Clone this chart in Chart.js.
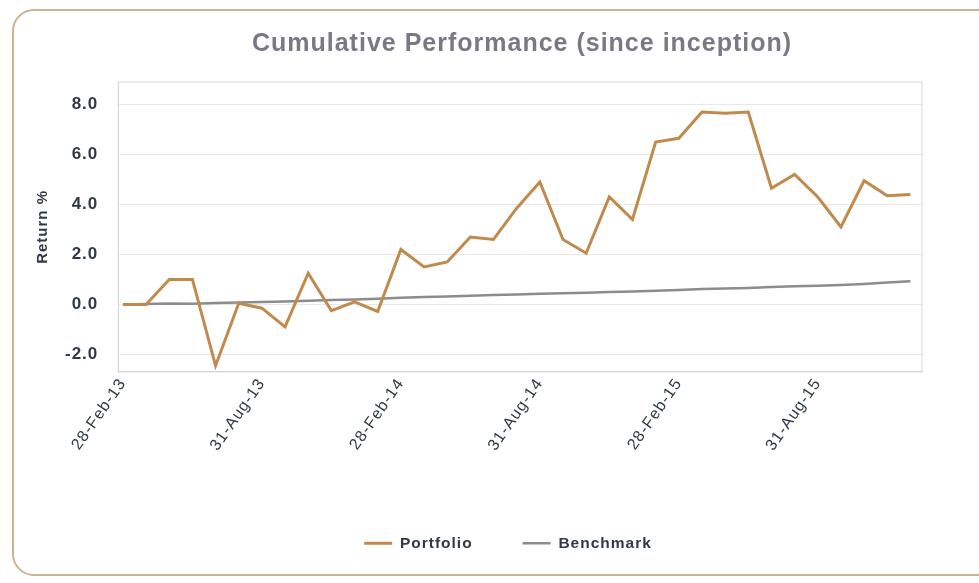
<!DOCTYPE html>
<html>
<head>
<meta charset="utf-8">
<script src="https://cdn.jsdelivr.net/npm/chart.js@4"></script>
<style>
  html, body { margin: 0; padding: 0; background: #fff; }
  #wrap { position: relative; width: 979px; height: 583px; overflow: hidden; }
  #frame {
    position: absolute; left: 12px; top: 9px; width: 990px; height: 567px;
    border: 2px solid #cbb394; border-radius: 22px; box-sizing: border-box;
  }
  canvas { position: absolute; left: 0; top: 0; }
</style>
</head>
<body>
<div id="wrap">
  <div id="frame"></div>
  <canvas id="perfChart" width="979" height="583"></canvas>
</div>
<script>
// month-end dates, Feb-13 .. Dec-15
const dates = [
    '28-Feb-13', '31-Mar-13', '30-Apr-13', '31-May-13', '30-Jun-13', '31-Jul-13',
    '31-Aug-13', '30-Sep-13', '31-Oct-13', '30-Nov-13', '31-Dec-13', '31-Jan-14',
    '28-Feb-14', '31-Mar-14', '30-Apr-14', '31-May-14', '30-Jun-14', '31-Jul-14',
    '31-Aug-14', '30-Sep-14', '31-Oct-14', '30-Nov-14', '31-Dec-14', '31-Jan-15',
    '28-Feb-15', '31-Mar-15', '30-Apr-15', '31-May-15', '30-Jun-15', '31-Jul-15',
    '31-Aug-15', '30-Sep-15', '31-Oct-15', '30-Nov-15', '31-Dec-15'
];

const portfolio = [
    0.0, 0.0, 1.0, 1.0, -2.45, 0.05,
    -0.15, -0.9, 1.25, -0.25, 0.1, -0.28,
    2.2, 1.5, 1.7, 2.7, 2.6, 3.85,
    4.9, 2.6, 2.05, 4.3, 3.4, 6.5,
    6.65, 7.7, 7.65, 7.7, 4.65, 5.2,
    4.3, 3.1, 4.95, 4.35, 4.4
];

const benchmark = [
    0.0, 0.02, 0.04, 0.03, 0.06, 0.08,
    0.1, 0.12, 0.15, 0.18, 0.2, 0.23,
    0.27, 0.3, 0.32, 0.35, 0.38, 0.4,
    0.43, 0.45, 0.47, 0.5, 0.52, 0.55,
    0.58, 0.62, 0.64, 0.66, 0.7, 0.73,
    0.75, 0.78, 0.82, 0.88, 0.93
];

const yTicks = [-2, 0, 2, 4, 6, 8];
const xTicks = [0, 6, 12, 18, 24, 30];

const toPoints = arr => arr.map((v, i) => ({ x: i, y: v }));

const textColor = '#2f3a46';
const font = 'Arial, "Liberation Sans", sans-serif';

new Chart(document.getElementById('perfChart').getContext('2d'), {
    type: 'line',
    data: {
        datasets: [
            {
                label: 'Portfolio',
                data: toPoints(portfolio),
                borderColor: '#c08a4c',
                backgroundColor: '#c08a4c',
                borderWidth: 3,
                pointRadius: 0,
                tension: 0,
            },
            {
                label: 'Benchmark',
                data: toPoints(benchmark),
                borderColor: '#8c8c8c',
                backgroundColor: '#8c8c8c',
                borderWidth: 2.5,
                pointRadius: 0,
                tension: 0,
            }
        ]
    },
    options: {
        responsive: false,
        animation: false,
        layout: { padding: { left: 30, right: 57, top: 14, bottom: 22 } },
        plugins: {
            title: {
                display: true,
                text: 'Cumulative Performance (since inception)',
                color: '#7b7886',
                font: { family: font, size: 25, weight: 'bold' },
                padding: { top: 15, bottom: 23 },
            },
            legend: {
                position: 'bottom',
                labels: {
                    usePointStyle: true,
                    pointStyle: 'line',
                    pointStyleWidth: 28,
                    boxHeight: 3,
                    color: textColor,
                    padding: 50,
                    font: { family: font, size: 15.5, weight: 'bold' },
                },
            },
            tooltip: { enabled: false },
        },
        scales: {
            x: {
                type: 'linear',
                min: -0.2,
                max: 34.5,
                afterBuildTicks: s => { s.ticks = xTicks.map(v => ({ value: v })); },
                afterFit: s => { s.height += 28; },
                ticks: {
                    autoSkip: false,
                    maxRotation: 55,
                    minRotation: 55,
                    color: textColor,
                    font: { family: font, size: 16 },
                    callback: v => dates[v],
                },
                grid: { display: false, drawTicks: false },
                border: { display: true, color: '#d6d6d6' },
            },
            y: {
                min: -2.7,
                max: 8.9,
                afterBuildTicks: s => { s.ticks = yTicks.map(v => ({ value: v })); },
                afterFit: s => { s.width -= 11; },
                ticks: {
                    color: textColor,
                    padding: 20,
                    font: { family: font, size: 17, weight: 'bold' },
                    callback: v => v.toFixed(1),
                },
                title: {
                    display: true,
                    text: 'Return %',
                    color: textColor,
                    font: { family: font, size: 15, weight: 'bold' },
                },
                grid: { color: '#e8e8e8', drawTicks: false },
                border: { display: true, color: '#d6d6d6' },
            }
        }
    },
    plugins: [{
        // wide text as in the scan, frame round the plot, title/legend nudged right
        id: 'plotFrame',
        beforeUpdate(chart) {
            chart.ctx.letterSpacing = '1px';
        },
        beforeDraw(chart) {
            chart.ctx.letterSpacing = '1px';
        },
        afterLayout(chart) {
            chart.legend.left += 32;
            chart.legend.right += 32;
            chart.titleBlock.left += 46;
            chart.titleBlock.right += 46;
        },
        afterDraw(chart) {
            const { ctx, chartArea: a } = chart;
            ctx.save();
            ctx.strokeStyle = '#d6d6d6';
            ctx.lineWidth = 1;
            ctx.strokeRect(a.left, a.top, a.right - a.left, a.bottom - a.top);
            ctx.restore();
        }
    }]
});
</script>
</body>
</html>
